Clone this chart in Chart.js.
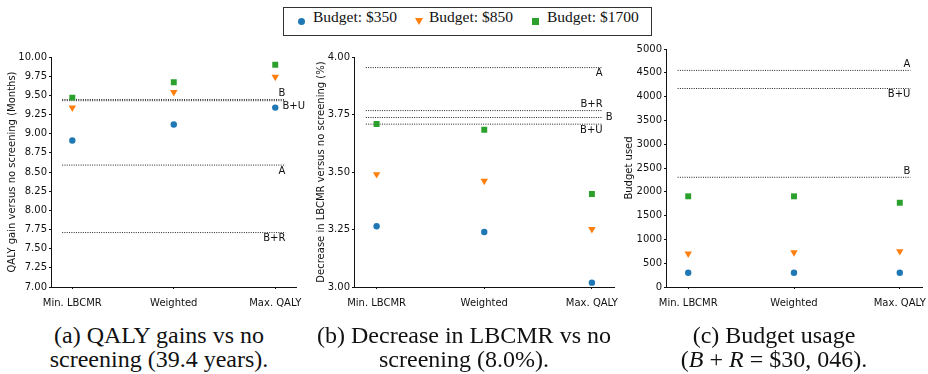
<!DOCTYPE html>
<html>
<head>
<meta charset="utf-8">
<script src="https://cdn.jsdelivr.net/npm/chart.js@4.4.1/dist/chart.umd.min.js"></script>
<style>
  body { margin: 0; width: 928px; height: 374px; overflow: hidden; background: #fff; position: relative; }
  canvas { position: absolute; top: 40px; }
  #legend { position: absolute; left: 283px; top: 7px; width: 367px; height: 27px; border: 1px solid #333; }
  .item { position: absolute; top: 0; line-height: 27px; font: 15.5px "Liberation Serif", serif; color: #111; white-space: nowrap; }
  .mk { position: absolute; top: 10px; }
  .cap { position: absolute; top: 323px; font: 24px/24px "Liberation Serif", serif; color: #111; text-align: center; white-space: nowrap; transform: translateX(-50%); }
</style>
</head>
<body>
<div id="legend"></div>
<canvas id="qaly" width="310" height="270" style="left:0px"></canvas>
<canvas id="lbcmr" width="322" height="270" style="left:305px"></canvas>
<canvas id="budget" width="318" height="270" style="left:618px"></canvas>
<div class="cap" style="left:159px">(a) QALY gains vs no<br>screening (39.4 years).</div>
<div class="cap" style="left:464px">(b) Decrease in LBCMR vs no<br>screening (8.0%).</div>
<div class="cap" style="left:774px">(c) Budget usage<br>(<i>B</i> + <i>R</i> = $30, 046).</div>
<script>
const categories = ['Min. LBCMR', 'Weighted', 'Max. QALY'];
const budgetNames = ['Budget: $350', 'Budget: $850', 'Budget: $1700'];
const colors = ['#1f77b4', '#ff7f0e', '#2ca02c'];
const markers = ['circle', 'triangle', 'rect'];

// (a) QALY gain versus no screening (months)
const qaly350 = [8.91, 9.12, 9.34];
const qaly850 = [9.34, 9.54, 9.74];
const qaly1700 = [9.47, 9.67, 9.90];
const qalyRefNames = ['B', 'B+U', 'A', 'B+R'];
const qalyRefValues = [9.445, 9.43, 8.59, 7.71];

// (b) decrease in LBCMR versus no screening (%)
const lbcmr350 = [3.264, 3.239, 3.019];
const lbcmr850 = [3.49, 3.461, 3.251];
const lbcmr1700 = [3.709, 3.684, 3.404];
const lbcmrRefNames = ['A', 'B+R', 'B', 'B+U'];
const lbcmrRefValues = [3.954, 3.767, 3.737, 3.708];

// (c) budget used
const budget350 = [300, 300, 300];
const budget850 = [700, 725, 750];
const budget1700 = [1905, 1905, 1770];
const budgetRefNames = ['A', 'B+U', 'B'];
const budgetRefValues = [4550, 4170, 2305];

const tickFont = { family: 'DejaVu Sans', size: 10 };
const ink = '#111';

// legend (html, sits across all three panels)
const legend = document.getElementById('legend');
const mkShapes = [
  'left:14px;width:7px;height:7px;border-radius:50%;background:' + colors[0],
  'left:131px;width:0;height:0;border-left:4px solid transparent;border-right:4px solid transparent;border-top:7px solid ' + colors[1],
  'left:248px;width:7px;height:7px;background:' + colors[2]
];
const textLeft = [29, 145, 263];
budgetNames.forEach((name, i) => {
  legend.insertAdjacentHTML('beforeend',
    '<div class="mk" style="' + mkShapes[i] + '"></div>' +
    '<div class="item" style="left:' + textLeft[i] + 'px">' + name + '</div>');
});

// labels next to the dotted reference lines
const refLabels = {
  id: 'refLabels',
  afterDatasetsDraw(chart, args, opts) {
    const { ctx, scales: { x, y } } = chart;
    ctx.save();
    ctx.font = '10px "DejaVu Sans"';
    ctx.fillStyle = ink;
    const px = x.getPixelForValue(opts.end);
    opts.names.forEach((name, k) => {
      const py = y.getPixelForValue(opts.values[k]);
      const place = opts.places[k];
      if (place === 'above') {
        ctx.textAlign = 'right'; ctx.textBaseline = 'bottom';
        ctx.fillText(name, px, py - 1);
      } else if (place === 'below') {
        ctx.textAlign = 'right'; ctx.textBaseline = 'top';
        ctx.fillText(name, px, py + 1);
      } else if (place === 'right') {
        ctx.textAlign = 'left'; ctx.textBaseline = 'middle';
        ctx.fillText(name, px + 3, py);
      } else {
        ctx.textAlign = 'left'; ctx.textBaseline = 'top';
        ctx.fillText(name, px - 3, py + 1);
      }
    });
    ctx.restore();
  }
};

function buildChart(id, cfg) {
  const series = cfg.series.map((vals, i) => ({
    label: budgetNames[i],
    data: vals.map((v, j) => ({ x: j, y: v })),
    showLine: false,
    pointStyle: markers[i],
    pointRotation: i === 1 ? 180 : 0,
    pointRadius: [3.2, 4.3, 4.2][i],
    pointHoverRadius: [3.2, 4.3, 4.2][i],
    backgroundColor: colors[i],
    borderColor: colors[i],
    borderWidth: 0
  }));
  const refs = cfg.refValues.map((v, k) => ({
    label: cfg.refNames[k],
    data: [{ x: -0.1, y: v }, { x: 2.1, y: v }],
    showLine: true,
    borderColor: '#222',
    borderWidth: 1,
    borderDash: [1, 1.3],
    pointRadius: 0,
    pointHoverRadius: 0
  }));
  return new Chart(document.getElementById(id), {
    type: 'scatter',
    data: { datasets: [...series, ...refs] },
    plugins: [refLabels],
    options: {
      responsive: false,
      animation: false,
      events: [],
      layout: { padding: { top: cfg.padTop, right: cfg.padRight, left: 0, bottom: 0 } },
      plugins: {
        legend: { display: false },
        tooltip: { enabled: false },
        refLabels: { names: cfg.refNames, values: cfg.refValues, places: cfg.places, end: 2.1 }
      },
      scales: {
        x: {
          type: 'linear', min: -0.21, max: 2.21,
          afterBuildTicks: s => { s.ticks = [0, 1, 2].map(v => ({ value: v })); },
          afterFit: s => { s.height = 23; },
          ticks: { callback: v => categories[v], font: tickFont, color: ink, padding: 8, maxRotation: 0, autoSkip: false },
          grid: { drawOnChartArea: false, drawTicks: true, tickLength: 2, color: ink },
          border: { display: true, color: ink, width: 1 }
        },
        y: {
          min: cfg.yMin, max: cfg.yMax,
          afterFit: s => { s.width = cfg.yWidth; },
          ticks: { stepSize: cfg.yStep, callback: cfg.fmt, font: tickFont, color: ink, padding: 2, autoSkip: false },
          grid: { drawOnChartArea: false, drawTicks: true, tickLength: 2, color: ink },
          border: { display: true, color: ink, width: 1 },
          title: { display: true, text: cfg.yTitle, font: tickFont, color: ink, padding: { top: cfg.titlePad, bottom: 0 } }
        }
      }
    }
  });
}

buildChart('qaly', {
  series: [qaly350, qaly850, qaly1700],
  refNames: qalyRefNames, refValues: qalyRefValues,
  places: ['above', 'rightBelow', 'below', 'below'],
  yMin: 7, yMax: 10, yStep: 0.25, fmt: v => v.toFixed(2),
  yTitle: 'QALY gain versus no screening (Months)',
  yWidth: 51, padTop: 17, padRight: 8, titlePad: 6
});

buildChart('lbcmr', {
  series: [lbcmr350, lbcmr850, lbcmr1700],
  refNames: lbcmrRefNames, refValues: lbcmrRefValues,
  places: ['below', 'above', 'right', 'below'],
  yMin: 3, yMax: 4, yStep: 0.25, fmt: v => v.toFixed(2),
  yTitle: 'Decrease in LBCMR versus no screening (%)',
  yWidth: 49, padTop: 17, padRight: 12, titlePad: 10
});

buildChart('budget', {
  series: [budget350, budget850, budget1700],
  refNames: budgetRefNames, refValues: budgetRefValues,
  places: ['above', 'below', 'above'],
  yMin: 0, yMax: 5000, yStep: 500, fmt: v => String(v),
  yTitle: 'Budget used',
  yWidth: 48, padTop: 9, padRight: 14, titlePad: 5
});
</script>
</body>
</html>
